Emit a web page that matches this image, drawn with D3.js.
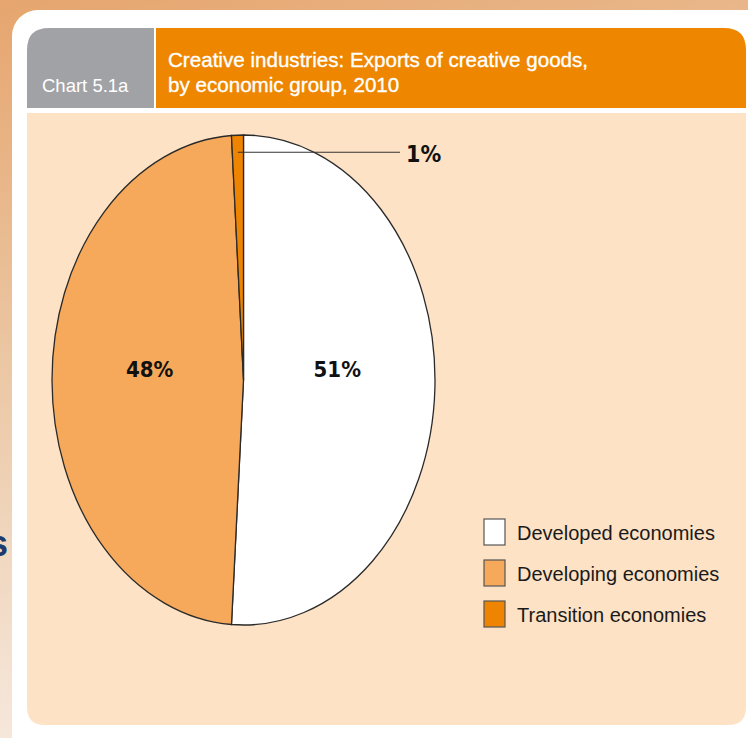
<!DOCTYPE html>
<html>
<head>
<meta charset="utf-8">
<script src="https://cdn.jsdelivr.net/npm/d3@7"></script>
<style>
  html, body { margin: 0; padding: 0; background: #fff; }
  svg { display: block; }
  .sans { font-family: "Liberation Sans", Arial, Helvetica, sans-serif; }
  .cond { font-family: "DejaVu Sans Condensed", "Liberation Sans Narrow", sans-serif; }
</style>
</head>
<body>
<svg id="chart" width="748" height="738"></svg>
<script>
// Exports of creative goods by economic group, 2010 (share of total, %)
const groups = ["Developed economies", "Developing economies", "Transition economies"];
const shares = [51, 48, 1];
const sliceColors = ["#ffffff", "#f6a95a", "#ee8400"];
const shareLabels = ["51%", "48%", "1%"];
const chartNumber = "Chart 5.1a";
const titleLines = ["Creative industries: Exports of creative goods,", "by economic group, 2010"];

const W = 748, H = 738;
const svg = d3.select("#chart");
const defs = svg.append("defs");

// page backdrop
const bg = defs.append("linearGradient").attr("id", "bg")
  .attr("x1", "0").attr("y1", "0").attr("x2", "0.25").attr("y2", "1");
bg.append("stop").attr("offset", "0").attr("stop-color", "#e6a56e");
bg.append("stop").attr("offset", "0.45").attr("stop-color", "#ebc6a2");
bg.append("stop").attr("offset", "1").attr("stop-color", "#f7ebe2");
svg.append("rect").attr("width", W).attr("height", H).attr("fill", "url(#bg)");

// stray slide lettering at the left edge
svg.append("text").attr("class", "sans").attr("x", -12).attr("y", 556)
  .attr("font-weight", "bold").attr("font-size", 36).attr("fill", "#1d3a6e").text("s");

// white card
svg.append("rect").attr("x", 12).attr("y", 10).attr("width", 760).attr("height", 760)
  .attr("rx", 26).attr("fill", "#ffffff");

// header: grey number tab and orange title bar
function topRounded(x, y, w, h, rl, rr) {
  return `M${x},${y + h} L${x},${y + rl} Q${x},${y} ${x + rl},${y} L${x + w - rr},${y} Q${x + w},${y} ${x + w},${y + rr} L${x + w},${y + h} Z`;
}
svg.append("path").attr("d", topRounded(27, 28, 127, 80, 22, 0)).attr("fill", "#a1a2a5");
svg.append("path").attr("d", topRounded(156, 28, 590, 80, 0, 22)).attr("fill", "#ee8600");

svg.append("text").attr("class", "sans").attr("x", 42).attr("y", 92)
  .attr("font-size", 18.5).attr("fill", "#ffffff").text(chartNumber);

svg.append("text").attr("class", "sans").attr("x", 168).attr("y", 67)
  .attr("font-size", 20.6).attr("fill", "#ffffff")
  .attr("stroke", "#ffffff").attr("stroke-width", 0.35)
  .selectAll("tspan").data(titleLines).join("tspan")
  .attr("x", 168).attr("dy", (d, i) => i === 0 ? 0 : 25).text(d => d);

// peach plot panel
function bottomRounded(x, y, w, h, r) {
  return `M${x},${y} L${x + w},${y} L${x + w},${y + h - r} Q${x + w},${y + h} ${x + w - r},${y + h} L${x + r},${y + h} Q${x},${y + h} ${x},${y + h - r} Z`;
}
svg.append("path").attr("d", bottomRounded(27, 113, 719, 612, 18)).attr("fill", "#fde2c5");

// elliptical pie: circular arcs stretched vertically
const cx = 243.5, cy = 380, rx = 191.5, ry = 245;
const pie = d3.pie().sort(null).value(d => d)(shares);
const arc = d3.arc().innerRadius(0).outerRadius(rx);
const pieG = svg.append("g")
  .attr("transform", `translate(${cx},${cy}) scale(1,${ry / rx})`);
pieG.selectAll("path").data(pie).join("path")
  .attr("d", arc)
  .attr("fill", (d, i) => sliceColors[i])
  .attr("stroke", "#2a2a2a").attr("stroke-width", 1.3)
  .attr("vector-effect", "non-scaling-stroke");

// map a point on the unit pie into the stretched frame
function pt(angle, rFrac) {
  return [cx + Math.sin(angle) * rx * rFrac, cy - Math.cos(angle) * ry * rFrac];
}

// in-slice value labels, set on a common baseline
[0, 1].forEach(i => {
  const mid = (pie[i].startAngle + pie[i].endAngle) / 2;
  const [lx] = pt(mid, 0.49);
  svg.append("text").attr("class", "cond").attr("x", lx).attr("y", cy - 3)
    .attr("text-anchor", "middle")
    .attr("font-weight", "bold").attr("font-size", 22).attr("fill", "#111")
    .text(shareLabels[i]);
});

// leader line for the thin transition slice
const tMid = (pie[2].startAngle + pie[2].endAngle) / 2;
const [sx, sy] = pt(tMid, 0.93);
svg.append("line").attr("x1", sx).attr("y1", sy).attr("x2", 400).attr("y2", sy)
  .attr("stroke", "#333").attr("stroke-width", 1.2);
svg.append("text").attr("class", "cond").attr("x", 406).attr("y", sy + 10)
  .attr("font-weight", "bold").attr("font-size", 23).attr("fill", "#111").text(shareLabels[2]);

// legend
const legend = svg.append("g").attr("transform", "translate(484,519)");
const rows = legend.selectAll("g").data(groups).join("g")
  .attr("transform", (d, i) => `translate(0,${i * 41})`);
rows.append("rect").attr("width", 21).attr("height", 26)
  .attr("fill", (d, i) => sliceColors[i]).attr("stroke", "#555").attr("stroke-width", 1.2);
rows.append("text").attr("class", "sans").attr("x", 33).attr("y", 21)
  .attr("font-size", 20).attr("fill", "#1a1a1a").text(d => d);
</script>
</body>
</html>
